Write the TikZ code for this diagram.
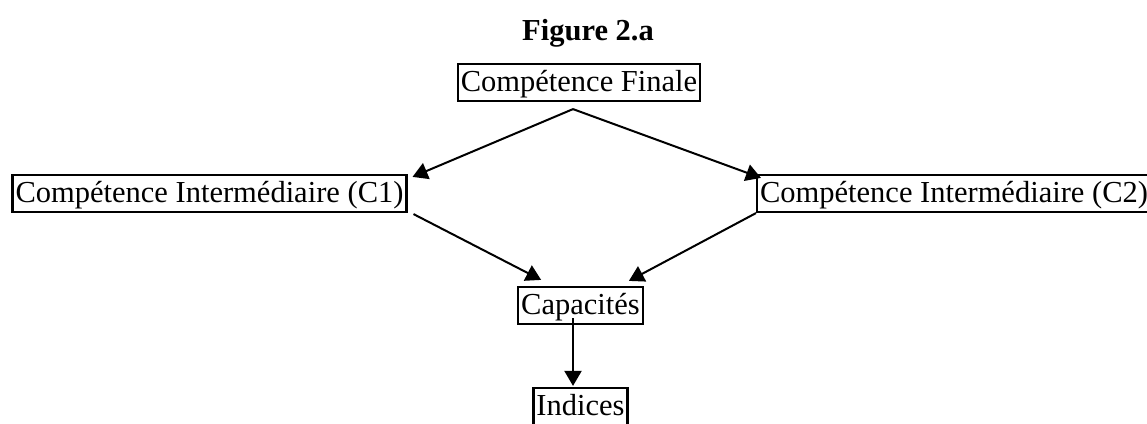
\documentclass[tikz,border=0pt]{standalone}
\usepackage{fontspec}
\setmainfont{Liberation Serif}
\usetikzlibrary{arrows.meta}
\begin{document}
\begin{tikzpicture}[x=1pt,y=-1pt,
  bx/.style={draw,line width=2.2pt,inner xsep=3pt,inner ysep=1pt,text height=26pt,text depth=9pt,
    font=\fontsize{30.5pt}{36pt}\selectfont},
  arr/.style={line width=2pt,-{Triangle[length=15pt,width=17pt]}}]
\useasboundingbox (0,0) rectangle (1147,423);
\clip (0,0) rectangle (1147,423);
\fill[white] (0,0) rectangle (1147,423);
\node[anchor=base,font=\fontsize{30.5pt}{36pt}\selectfont\bfseries] (title) at (588,40) {Figure 2.a};
\node[bx] (fin) at (579,82.5) {Compétence Finale};
\node[bx] (c1) at (209.5,193.5) {Compétence Intermédiaire (C1)};
\node[bx] (c2) at (954,193.5) {Compétence Intermédiaire (C2)};
\node[bx] (cap) at (580.5,305.5) {Capacités};
\node[bx] (ind) at (580.5,406.5) {Indices};
\coordinate (apex) at ([xshift=-6pt,yshift=-7pt]fin.south);
\draw[arr] (apex) -- ([xshift=5pt,yshift=-3pt]c1.north east);
\draw[arr] (apex) -- ([xshift=5pt,yshift=-4pt]c2.north west);
\draw[arr] ([xshift=6pt,yshift=-1pt]c1.south east) -- ([xshift=24pt,yshift=6pt]cap.north west);
\draw[arr] (c2.south west) -- ([xshift=-15pt,yshift=5pt]cap.north east);
\draw[arr] ([xshift=-7.5pt,yshift=7pt]cap.south) -- ([xshift=-7.5pt,yshift=1pt]ind.north);
\end{tikzpicture}
\end{document}
